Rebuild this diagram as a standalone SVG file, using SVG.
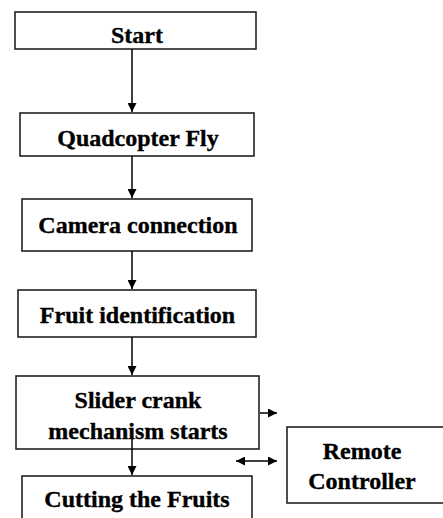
<svg xmlns="http://www.w3.org/2000/svg" width="443" height="518" viewBox="0 0 443 518">
<style>
.box{fill:#fff;stroke:#222;stroke-width:1.6}
.t{font-family:"Liberation Serif","Times New Roman",serif;font-weight:bold;font-size:24px;fill:#000;stroke:#000;stroke-width:0.35;text-anchor:middle}
.c{stroke:#000;stroke-width:1.5;fill:none}
</style>
<defs>
<marker id="ah" viewBox="0 0 10 10" refX="10" refY="5" markerWidth="9" markerHeight="9" markerUnits="userSpaceOnUse" orient="auto-start-reverse">
<path d="M0,0 L10,5 L0,10 z" fill="#000"/>
</marker>
</defs>
<rect width="443" height="518" fill="#fff"/>
<g id="start"><rect class="box" x="15" y="12" width="241" height="37"/><text class="t" x="137" y="43">Start</text></g>
<g id="fly"><rect class="box" x="20" y="113" width="234" height="43"/><text class="t" x="138" y="146">Quadcopter Fly</text></g>
<g id="camera"><rect class="box" x="22" y="199" width="230" height="52"/><text class="t" x="138" y="233">Camera connection</text></g>
<g id="fruit"><rect class="box" x="18" y="290" width="238" height="47"/><text class="t" x="137.5" y="323">Fruit identification</text></g>
<g id="slider"><rect class="box" x="16" y="376" width="243" height="73"/><text class="t" x="138" y="408">Slider crank</text><text class="t" x="138" y="439">mechanism starts</text></g>
<g id="cutting"><rect class="box" x="22" y="476" width="230" height="60"/><text class="t" x="137" y="507">Cutting the Fruits</text></g>
<g id="remote"><rect class="box" x="287" y="427" width="170" height="76"/><text class="t" x="362" y="459">Remote</text><text class="t" x="362" y="489">Controller</text></g>
<g id="connectors">
<line class="c" x1="132" y1="49" x2="132" y2="112" marker-end="url(#ah)"/>
<line class="c" x1="132" y1="156" x2="132" y2="198" marker-end="url(#ah)"/>
<line class="c" x1="132" y1="251" x2="132" y2="289" marker-end="url(#ah)"/>
<line class="c" x1="132" y1="337" x2="132" y2="375" marker-end="url(#ah)"/>
<line class="c" x1="132" y1="433" x2="132" y2="475" marker-end="url(#ah)"/>
<line class="c" x1="260" y1="413" x2="277" y2="413" marker-end="url(#ah)"/>
<line class="c" x1="236" y1="461" x2="277" y2="461" marker-start="url(#ah)" marker-end="url(#ah)"/>
</g>
</svg>
